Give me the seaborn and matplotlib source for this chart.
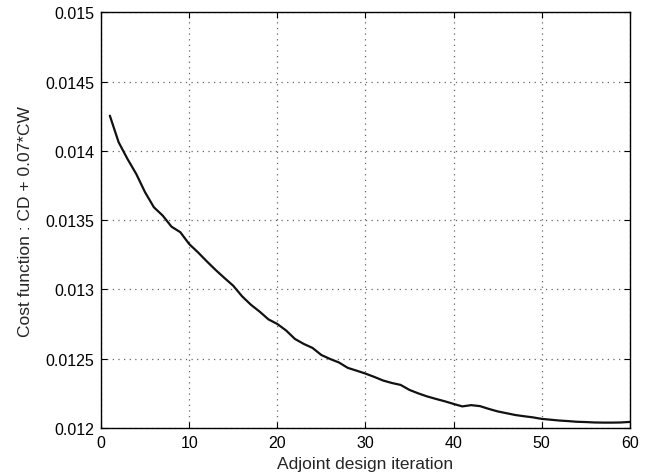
import numpy as np
import pandas as pd
import matplotlib
matplotlib.use("Agg")
import matplotlib.pyplot as plt
import seaborn as sns

# values
iterations = list(range(1, 61))
cost = [
    0.014254, 0.014062, 0.013942, 0.013833, 0.013701, 0.013593, 0.013533, 0.013453,
    0.013413, 0.013328, 0.013268, 0.013203, 0.013141, 0.013083, 0.013027, 0.012951,
    0.012890, 0.012840, 0.012784, 0.012751, 0.012704, 0.012643, 0.012607, 0.012578,
    0.012527, 0.012498, 0.012473, 0.012434, 0.012414, 0.012393, 0.012369, 0.012343,
    0.012325, 0.012311, 0.012275, 0.012250, 0.012228, 0.012210, 0.012193, 0.012174,
    0.012156, 0.012165, 0.012158, 0.012138, 0.012120, 0.012107, 0.012094, 0.012085,
    0.012077, 0.012066, 0.012060, 0.012054, 0.012050, 0.012045, 0.012043, 0.012040,
    0.012039, 0.012039, 0.012040, 0.012044,
]
x_ticks = [0, 10, 20, 30, 40, 50, 60]
y_ticks = [0.012, 0.0125, 0.013, 0.0135, 0.014, 0.0145, 0.015]
y_tick_labels = ["0.012", "0.0125", "0.013", "0.0135", "0.014", "0.0145", "0.015"]

df = pd.DataFrame({"iteration": iterations, "cost": cost})

sns.set_style("ticks")
plt.rcParams["font.family"] = ["Liberation Sans", "DejaVu Sans"]
plt.rcParams["font.size"] = 11

fig = plt.figure(figsize=(6.56, 4.77), dpi=100)
ax = fig.add_axes([0.154, 0.1006, 0.806, 0.8715])

sns.lineplot(data=df, x="iteration", y="cost", ax=ax, color="#111111", linewidth=1.6)

ax.set_xlim(0, 60)
ax.set_ylim(0.012, 0.015)
ax.set_xticks(x_ticks)
ax.set_yticks(y_ticks)
ax.set_yticklabels(y_tick_labels)

# matlab-like look: inward ticks on all sides, dotted grid
ax.tick_params(direction="in", top=True, right=True, length=4, width=0.8,
               labelsize=11.5, colors="black", pad=5)
ax.grid(True, linestyle=(0, (1, 3.5)), color="#666666", linewidth=0.9)
for s in ax.spines.values():
    s.set_linewidth(1.0)
    s.set_color("black")

ax.set_xlabel("Adjoint design iteration", fontsize=12.5, labelpad=4)
ax.set_ylabel("Cost function : CD + 0.07*CW", fontsize=12.5, labelpad=9)

fig.savefig("out.png", dpi=100)
